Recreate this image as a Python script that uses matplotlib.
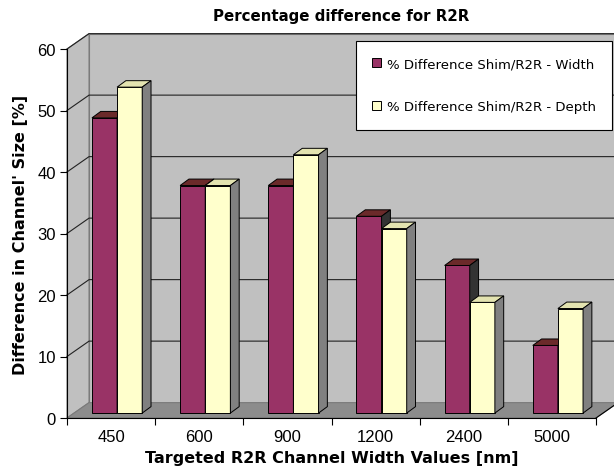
import matplotlib.pyplot as plt
from matplotlib.patches import Polygon, Patch

# Channel width targets and the measured differences
categories = ["450", "600", "900", "1200", "2400", "5000"]
width_diff = [48, 37, 37, 32, 24, 11]
depth_diff = [53, 37, 42, 30, 18, 17]
series_labels = ["% Difference Shim/R2R - Width", "% Difference Shim/R2R - Depth"]
y_ticks = [0, 10, 20, 30, 40, 50, 60]

plt.rcParams["font.family"] = ["Liberation Sans", "DejaVu Sans"]
wide = ["DejaVu Sans"]

fig = plt.figure(figsize=(6.14, 4.77), dpi=100)
ax = fig.add_axes([67 / 614, 58 / 477, 529 / 614, 369 / 477])
n = len(categories)
ymax = 60
ax.set_xlim(0, n)
ax.set_ylim(0, ymax)

# oblique depth of the walls, in data units
wdx, wdy = 0.25, 2.5
# bars sit part way back, with their own depth
bdx, bdy = 0.068, 0.8
ddx, ddy = 0.10, 1.05
bw = 0.285

wall = "#c0c0c0"
floor = "#8c8c8c"
edge = "#7a7a7a"

# walls and floor
back = Polygon([(wdx, wdy), (wdx, ymax + wdy), (n + wdx, ymax + wdy), (n + wdx, wdy)],
               closed=True, fc=wall, ec=edge, lw=0.8, clip_on=False, zorder=0.5)
side = Polygon([(0, 0), (0, ymax), (wdx, ymax + wdy), (wdx, wdy)],
               closed=True, fc=wall, ec=edge, lw=0.8, clip_on=False, zorder=0.5)
flr = Polygon([(0, 0), (n, 0), (n + wdx, wdy), (wdx, wdy)],
              closed=True, fc=floor, ec=edge, lw=0.8, clip_on=False, zorder=0.6)
for p in (back, side, flr):
    ax.add_patch(p)

# gridlines along the left wall and across the back wall
for t in y_ticks[1:]:
    ax.plot([0, wdx, n + wdx], [t, t + wdy, t + wdy], color="#222222", lw=0.8,
            clip_on=False, zorder=0.7)


def draw_bar(x0, value, front, top, shade):
    x1 = x0 + bw
    y0 = bdy
    y1 = bdy + value
    ax.bar(x0, value, width=bw, bottom=y0, align="edge", color=front,
           edgecolor="black", linewidth=0.7, zorder=2, clip_on=False)
    ax.add_patch(Polygon([(x0, y1), (x1, y1), (x1 + ddx, y1 + ddy), (x0 + ddx, y1 + ddy)],
                         closed=True, fc=top, ec="black", lw=0.7, zorder=2, clip_on=False))
    ax.add_patch(Polygon([(x1, y0), (x1, y1), (x1 + ddx, y1 + ddy), (x1 + ddx, y0 + ddy)],
                         closed=True, fc=shade, ec="black", lw=0.7, zorder=2, clip_on=False))


for i in range(n):
    left = i + 0.5 + bdx - bw
    draw_bar(left, width_diff[i], "#993366", "#6b2a2a", "#333333")
    draw_bar(left + bw, depth_diff[i], "#ffffcc", "#e3e3b0", "#808080")

# floor edge on the right side
ax.plot([n, n + wdx], [0, wdy], color="black", lw=0.8, clip_on=False, zorder=0.8)

ax.spines["top"].set_visible(False)
ax.spines["right"].set_visible(False)
for s in ("left", "bottom"):
    ax.spines[s].set_linewidth(0.8)
    ax.spines[s].set_zorder(3)

ax.set_yticks(y_ticks)
ax.set_xticks(range(n + 1))
ax.set_xticklabels([])
ax.set_xticks([i + 0.5 for i in range(n)], minor=True)
ax.set_xticklabels(categories, minor=True)
ax.tick_params(axis="x", which="major", length=5, direction="out")
ax.tick_params(axis="x", which="minor", length=0, pad=8, labelsize=12)
ax.tick_params(axis="y", length=5, direction="out", labelsize=12, pad=3)

ax.set_xlabel("Targeted R2R Channel Width Values [nm]", fontsize=11.5,
              fontweight="bold", family=wide, labelpad=4)
ax.set_ylabel("Difference in Channel' Size [%]", fontsize=11.5,
              fontweight="bold", family=wide, labelpad=7)
fig.text(0.555, 0.966, "Percentage difference for R2R", ha="center", va="center",
         fontsize=10.8, fontweight="bold", family=wide)

handles = [Patch(fc="#993366", ec="black", lw=0.7),
           Patch(fc="#ffffcc", ec="black", lw=0.7)]
leg = fig.legend(handles, series_labels, loc="upper right",
                 bbox_to_anchor=(0.997, 0.912), frameon=True,
                 prop={"family": wide, "size": 9.5},
                 fancybox=False, edgecolor="black", framealpha=1,
                 handlelength=0.7, handleheight=0.7, handletextpad=0.4,
                 labelspacing=2.25, borderpad=1.25, borderaxespad=0)
leg.get_frame().set_linewidth(0.8)

fig.savefig("out.png", dpi=100)
